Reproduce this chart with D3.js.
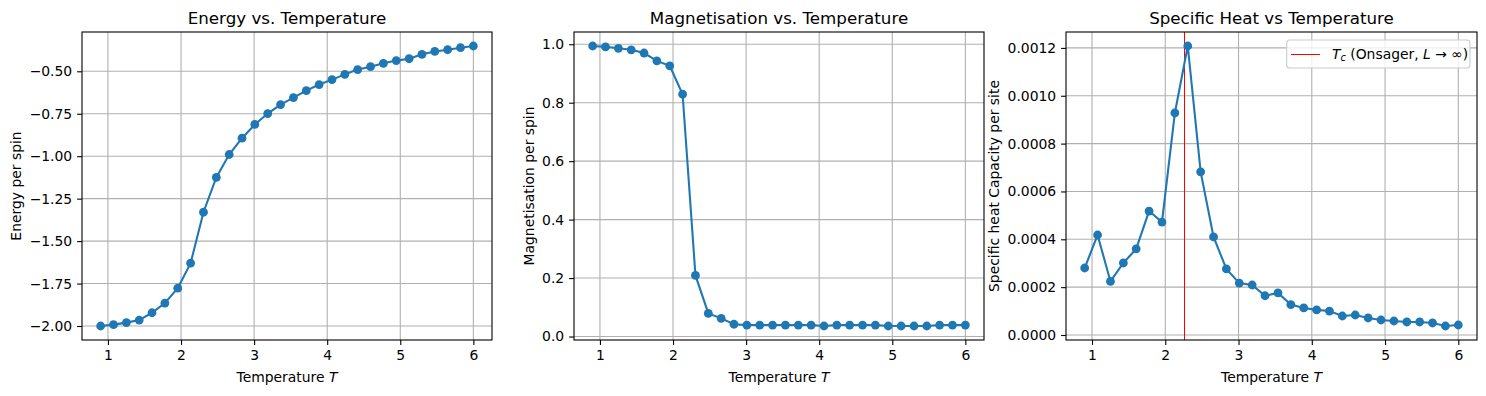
<!DOCTYPE html>
<html lang="en">
	<head>
		<meta charset="utf-8">
		<title>Ising model observables</title>
		<script src="https://d3js.org/d3.v7.min.js"></script>
		<style type="text/css">
			body { margin: 0; background: #ffffff; }
			text { font-family: "DejaVu Sans", sans-serif; fill: #000000; }
		</style>
	</head>
	<body>
		<script type="text/javascript">

			//Temperatures (x values, shared by all panels)
			var temps = [0.900, 1.076, 1.252, 1.428, 1.603, 1.779, 1.955, 2.131, 2.307, 2.483,
						 2.659, 2.834, 3.010, 3.186, 3.362, 3.538, 3.714, 3.890, 4.066, 4.241,
						 4.417, 4.593, 4.769, 4.945, 5.121, 5.297, 5.472, 5.648, 5.824, 6.000];

			//Energy per spin
			var energy = [-2.000, -1.992, -1.980, -1.965, -1.922, -1.865, -1.777, -1.630, -1.330, -1.125,
						  -0.990, -0.894, -0.813, -0.749, -0.696, -0.655, -0.614, -0.578, -0.549, -0.518,
						  -0.490, -0.473, -0.453, -0.437, -0.426, -0.400, -0.383, -0.373, -0.361, -0.351];

			//Magnetisation per spin
			var magnet = [0.994, 0.991, 0.986, 0.981, 0.970, 0.943, 0.926, 0.829, 0.209, 0.079,
						  0.062, 0.042, 0.039, 0.039, 0.039, 0.039, 0.039, 0.039, 0.036, 0.039,
						  0.039, 0.039, 0.039, 0.036, 0.036, 0.036, 0.036, 0.039, 0.039, 0.039];

			//Specific heat per site
			var heat = [0.000280, 0.000418, 0.000224, 0.000301, 0.000360, 0.000518, 0.000472, 0.000928, 0.001208, 0.000682,
						0.000410, 0.000276, 0.000217, 0.000209, 0.000164, 0.000176, 0.000127, 0.000113, 0.000105, 0.000100,
						0.0000794, 0.0000836, 0.0000711, 0.0000627, 0.0000585, 0.0000544, 0.0000544, 0.0000502, 0.0000376, 0.0000418];

			//Tick labels
			var xTicks = [1, 2, 3, 4, 5, 6];
			var energyTicks = [-2.00, -1.75, -1.50, -1.25, -1.00, -0.75, -0.50];
			var magnetTicks = [0.0, 0.2, 0.4, 0.6, 0.8, 1.0];
			var heatTicks = [0.0000, 0.0002, 0.0004, 0.0006, 0.0008, 0.0010, 0.0012];

			//Onsager critical temperature
			var tc = 2.269;

			var w = 1486;
			var h = 396;
			var plotTop = 32, plotBottom = 340;
			var blue = "#1f77b4";

			var panels = [
				{ left: 82, right: 492, values: energy, ticks: energyTicks, fmt: ".2f",
				  title: "Energy vs. Temperature", ylabel: "Energy per spin", labelX: 15.7 },
				{ left: 574, right: 984, values: magnet, ticks: magnetTicks, fmt: ".1f",
				  title: "Magnetisation vs. Temperature", ylabel: "Magnetisation per spin", labelX: 529 },
				{ left: 1066, right: 1477, values: heat, ticks: heatTicks, fmt: ".4f",
				  title: "Specific Heat vs Temperature", ylabel: "Specific heat Capacity per site", labelX: 994, tc: true }
			];

			var svg = d3.select("body")
						.append("svg")
						.attr("width", w)
						.attr("height", h);

			svg.append("rect")
				.attr("width", w)
				.attr("height", h)
				.attr("fill", "#ffffff");

			//matplotlib style 5% margins
			function pad(ext) {
				var m = (ext[1] - ext[0]) * 0.05;
				return [ext[0] - m, ext[1] + m];
			}

			panels.forEach(function(p) {

				var xScale = d3.scaleLinear()
						.domain(pad(d3.extent(temps)))
						.range([p.left, p.right]);

				var yScale = d3.scaleLinear()
						.domain(pad(d3.extent(p.values)))
						.range([plotBottom, plotTop]);

				var g = svg.append("g");

				//Grid
				g.append("g")
					.selectAll("line")
					.data(xTicks)
					.enter()
					.append("line")
					.attr("x1", function(d) { return xScale(d); })
					.attr("x2", function(d) { return xScale(d); })
					.attr("y1", plotTop)
					.attr("y2", plotBottom)
					.attr("stroke", "#b0b0b0")
					.attr("stroke-width", 1.1);

				g.append("g")
					.selectAll("line")
					.data(p.ticks)
					.enter()
					.append("line")
					.attr("x1", p.left)
					.attr("x2", p.right)
					.attr("y1", function(d) { return yScale(d); })
					.attr("y2", function(d) { return yScale(d); })
					.attr("stroke", "#b0b0b0")
					.attr("stroke-width", 1.1);

				//Critical temperature line
				if (p.tc) {
					g.append("line")
						.attr("x1", xScale(tc))
						.attr("x2", xScale(tc))
						.attr("y1", plotTop)
						.attr("y2", plotBottom)
						.attr("stroke", "red")
						.attr("stroke-width", 1)
						.attr("shape-rendering", "crispEdges");
				}

				//Line and markers
				var line = d3.line()
						.x(function(d, i) { return xScale(temps[i]); })
						.y(function(d) { return yScale(d); });

				g.append("path")
					.datum(p.values)
					.attr("d", line)
					.attr("fill", "none")
					.attr("stroke", blue)
					.attr("stroke-width", 2.08);

				g.selectAll("circle")
					.data(p.values)
					.enter()
					.append("circle")
					.attr("cx", function(d, i) { return xScale(temps[i]); })
					.attr("cy", function(d) { return yScale(d); })
					.attr("r", 4.4)
					.attr("fill", blue);

				//Axes
				var fmt = d3.format(p.fmt);
				var xAxis = d3.axisBottom(xScale)
						.tickValues(xTicks)
						.tickSize(4.9)
						.tickPadding(4.9)
						.tickFormat(d3.format("d"));

				var yAxis = d3.axisLeft(yScale)
						.tickValues(p.ticks)
						.tickSize(4.9)
						.tickPadding(4.9)
						.tickFormat(function(d) { return fmt(d).replace("-", "\u2212"); });

				var ax = g.append("g")
					.attr("transform", "translate(0," + plotBottom + ")")
					.call(xAxis);
				var ay = g.append("g")
					.attr("transform", "translate(" + p.left + ",0)")
					.call(yAxis);

				[ax, ay].forEach(function(a) {
					a.select(".domain").remove();
					a.selectAll("line").attr("stroke", "#000").attr("stroke-width", 1.1);
					a.selectAll("text")
						.attr("font-family", "DejaVu Sans")
						.attr("font-size", "13.9px")
						.attr("fill", "#000");
				});

				//Frame
				g.append("rect")
					.attr("x", p.left)
					.attr("y", plotTop)
					.attr("width", p.right - p.left)
					.attr("height", plotBottom - plotTop)
					.attr("fill", "none")
					.attr("stroke", "#000")
					.attr("stroke-width", 1.1);

				//Title
				g.append("text")
					.attr("x", (p.left + p.right) / 2)
					.attr("y", 24)
					.attr("text-anchor", "middle")
					.attr("font-size", "16.7px")
					.text(p.title);

				//X label
				var xl = g.append("text")
					.attr("x", (p.left + p.right) / 2)
					.attr("y", 382)
					.attr("text-anchor", "middle")
					.attr("font-size", "13.9px");
				xl.append("tspan").text("Temperature ");
				xl.append("tspan").attr("font-style", "italic").text("T");

				//Y label
				g.append("text")
					.attr("transform", "translate(" + p.labelX + "," + ((plotTop + plotBottom) / 2) + ") rotate(-90)")
					.attr("text-anchor", "middle")
					.attr("dy", "0.35em")
					.attr("font-size", "13.9px")
					.text(p.ylabel);

				//Legend
				if (p.tc) {
					var lg = g.append("g");
					lg.append("rect")
						.attr("x", 1286.7)
						.attr("y", 40)
						.attr("width", 183.3)
						.attr("height", 28)
						.attr("rx", 3)
						.attr("fill", "#ffffff")
						.attr("fill-opacity", 0.8)
						.attr("stroke", "#cccccc")
						.attr("stroke-width", 1.1);
					lg.append("line")
						.attr("x1", 1291)
						.attr("x2", 1320)
						.attr("y1", 54)
						.attr("y2", 54)
						.attr("stroke", "red")
						.attr("stroke-width", 1)
						.attr("shape-rendering", "crispEdges");
					var lt = lg.append("text")
						.attr("x", 1332)
						.attr("y", 59)
						.attr("font-size", "13.9px");
					lt.append("tspan").attr("font-style", "italic").text("T");
					lt.append("tspan").attr("font-style", "italic").attr("font-size", "9.7px").attr("dy", "2").text("c");
					lt.append("tspan").attr("dy", "-2").text(" (Onsager, ");
					lt.append("tspan").attr("font-style", "italic").text("L");
					lt.append("tspan").text(" \u2192 \u221e)");
				}
			});

		</script>
	</body>
</html>
